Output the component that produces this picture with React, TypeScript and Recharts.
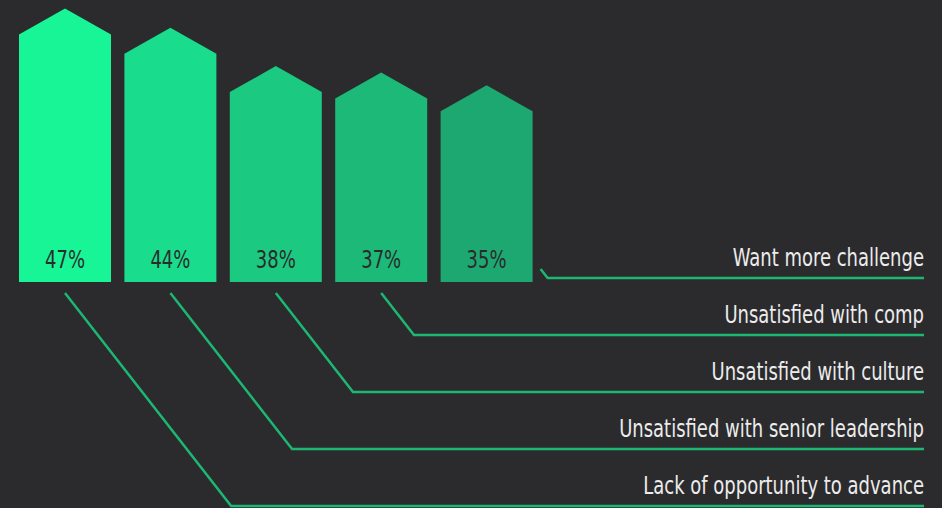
import React from 'react';
import { BarChart, Bar, XAxis, YAxis, Cell } from 'recharts';

const reasons = [
  'Lack of opportunity to advance',
  'Unsatisfied with senior leadership',
  'Unsatisfied with culture',
  'Unsatisfied with comp',
  'Want more challenge',
];
const shares = [47, 44, 38, 37, 35];
const barColors = ['#18f597', '#19dd8c', '#1bc980', '#1cb978', '#1da872'];

const data = reasons.map((reason, i) => ({ reason, share: shares[i] }));

const BG = '#2b2b2d';
const LINE = '#1db774';
const FONT = '"DejaVu Sans Condensed", "DejaVu Sans", sans-serif';

// narrow text: the original uses a condensed face, so squeeze horizontally
function NarrowText({ x, y, anchor, fill, children }: any) {
  return (
    <text
      transform={`translate(${x},${y}) scale(0.8,1)`}
      textAnchor={anchor}
      fill={fill}
      fontSize={25}
      fontFamily={FONT}
    >
      {children}
    </text>
  );
}

// house-shaped bar + its leader line and label row on the right
function ArrowBar(props: any) {
  const { x, y, width, height, index, fill, payload } = props;
  const roof = 26;
  const bottom = y + height;
  const cx = x + width / 2;
  const path = `M${x},${bottom} L${x},${y + roof} L${cx},${y} L${x + width},${y + roof} L${x + width},${bottom} Z`;

  const rowY = 278 + (reasons.length - 1 - index) * 57;
  const lineEnd = 924;
  let sx = cx;
  let sy = bottom + 11;
  if (rowY < sy + 5) {
    sx = x + width + 8;
    sy = rowY - 9;
  }
  const ex = sx + (rowY - sy) * 0.78;

  return (
    <g>
      <path d={path} fill={fill} />
      <NarrowText x={cx} y={bottom - 14} anchor="middle" fill={BG}>
        {payload.share}%
      </NarrowText>
      <polyline
        points={`${sx},${sy} ${ex},${rowY} ${lineEnd},${rowY}`}
        fill="none"
        stroke={LINE}
        strokeWidth={2.5}
      />
      <NarrowText x={lineEnd} y={rowY - 12} anchor="end" fill="#ececec">
        {payload.reason}
      </NarrowText>
    </g>
  );
}

export default function App() {
  return (
    <div style={{ position: 'absolute', left: 0, top: 0, width: 942, height: 508, background: BG }}>
      <BarChart
        width={942}
        height={508}
        data={data}
        margin={{ top: 2, right: 403, bottom: 226, left: 12 }}
      >
        <XAxis dataKey="reason" hide />
        <YAxis type="number" domain={[4.3, 48]} hide />
        <Bar dataKey="share" barSize={92} shape={<ArrowBar />} isAnimationActive={false}>
          {data.map((d, i) => (
            <Cell key={d.reason} fill={barColors[i]} />
          ))}
        </Bar>
      </BarChart>
    </div>
  );
}
